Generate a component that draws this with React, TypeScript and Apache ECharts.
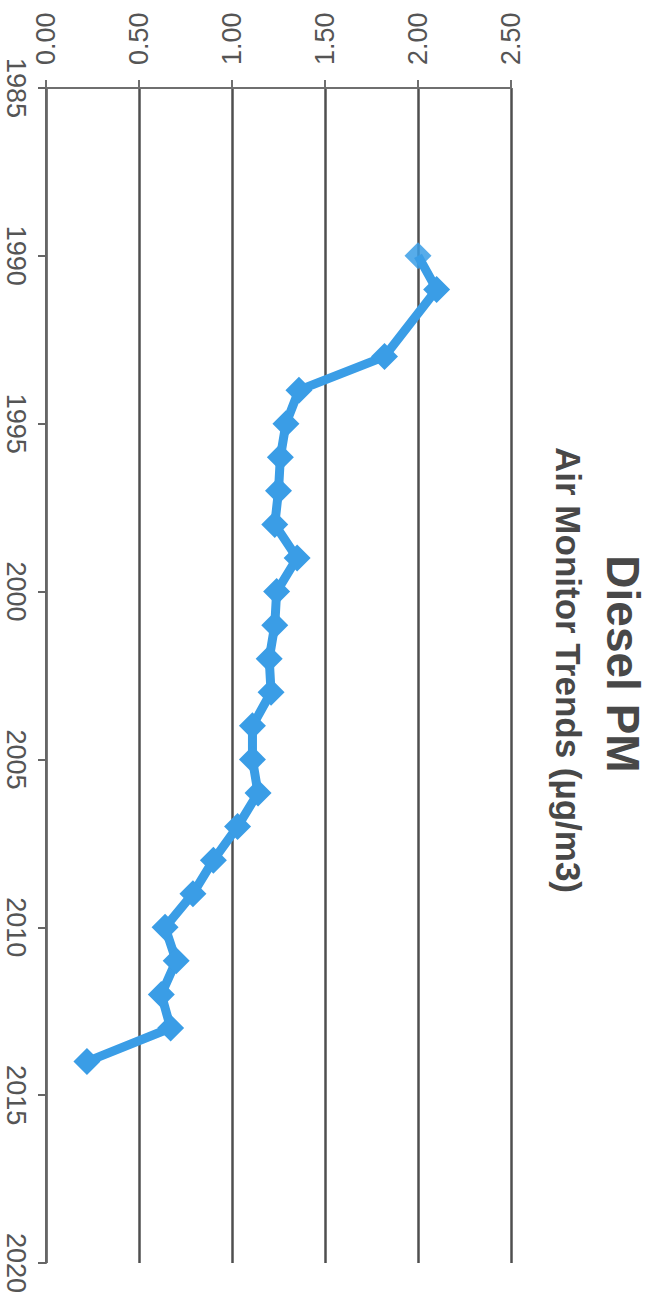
import React, { useEffect, useRef } from "react";
import * as echarts from "echarts";

// Annual mean diesel PM concentration (µg/m3); no reading for 1992.
const years: number[] = [
  1990, 1991, 1993, 1994, 1995, 1996, 1997, 1998, 1999, 2000, 2001, 2002,
  2003, 2004, 2005, 2006, 2007, 2008, 2009, 2010, 2011, 2012, 2013, 2014,
];
const dieselPM: number[] = [
  2.0, 2.1, 1.82, 1.36, 1.29, 1.26, 1.25, 1.23, 1.35, 1.24, 1.23, 1.2,
  1.21, 1.11, 1.11, 1.14, 1.03, 0.9, 0.79, 0.64, 0.7, 0.62, 0.67, 0.22,
];

const titleText = "Diesel PM";
const subtitleText = "Air Monitor Trends (µg/m3)";

const yearMin = 1985;
const yearMax = 2020;
const yearStep = 5;
const valueMin = 0;
const valueMax = 2.5;
const valueStep = 0.5;

const LINE_BLUE = "#3a9de6";
const INK = "#555555";
const FONT = "'Liberation Sans', Arial, Helvetica, sans-serif";

export default function App() {
  const ref = useRef<HTMLDivElement>(null);

  useEffect(() => {
    if (!ref.current) return;
    const chart = echarts.init(ref.current, undefined, { renderer: "svg" });

    const points = years.map((y, i) => ({
      value: [dieselPM[i], y],
      itemStyle: i === 0 ? { opacity: 0.85 } : undefined,
    }));

    chart.setOption({
      animation: false,
      backgroundColor: "#ffffff",
      grid: { left: 46, right: 144, top: 88, bottom: 36, containLabel: false },
      xAxis: {
        type: "value",
        position: "top",
        min: valueMin,
        max: valueMax,
        interval: valueStep,
        axisLine: { show: true, lineStyle: { color: "#6f6f6f", width: 2 } },
        axisTick: { show: true, inside: false, length: 8, lineStyle: { color: "#6f6f6f", width: 2 } },
        axisLabel: {
          rotate: -90,
          margin: 23,
          fontSize: 27,
          color: INK,
          fontFamily: FONT,
          formatter: (v: number) => v.toFixed(2),
        },
        splitLine: { show: true, lineStyle: { color: "#4f4f4f", width: 2.5 } },
      },
      yAxis: {
        type: "value",
        position: "left",
        inverse: true,
        min: yearMin,
        max: yearMax,
        interval: yearStep,
        axisLine: { show: true, onZero: false, lineStyle: { color: "#666666", width: 2 } },
        axisTick: { show: true, inside: false, length: 8, lineStyle: { color: "#666666", width: 2 } },
        axisLabel: {
          rotate: -90,
          margin: 17,
          fontSize: 27,
          color: INK,
          fontFamily: FONT,
          formatter: (v: number) => String(Math.round(v)),
        },
        splitLine: { show: false },
      },
      graphic: [
        {
          type: "text",
          x: 623,
          y: 664,
          rotation: -Math.PI / 2,
          style: {
            text: titleText,
            fill: "#484848",
            font: `bold 46px ${FONT}`,
            align: "center",
            verticalAlign: "middle",
            textAlign: "center",
            textVerticalAlign: "middle",
          },
        },
        {
          type: "text",
          x: 568,
          y: 670,
          rotation: -Math.PI / 2,
          style: {
            text: subtitleText,
            fill: "#484848",
            font: `bold 35px ${FONT}`,
            align: "center",
            verticalAlign: "middle",
            textAlign: "center",
            textVerticalAlign: "middle",
          },
        },
      ],
      series: [
        {
          type: "line",
          data: points,
          symbol: "diamond",
          symbolSize: 27,
          showSymbol: true,
          lineStyle: { color: LINE_BLUE, width: 9 },
          itemStyle: { color: LINE_BLUE },
          z: 3,
        },
      ],
    });

    return () => chart.dispose();
  }, []);

  return (
    <div
      ref={ref}
      style={{ position: "absolute", left: 0, top: 0, width: 655, height: 1299, background: "#fff" }}
    />
  );
}
